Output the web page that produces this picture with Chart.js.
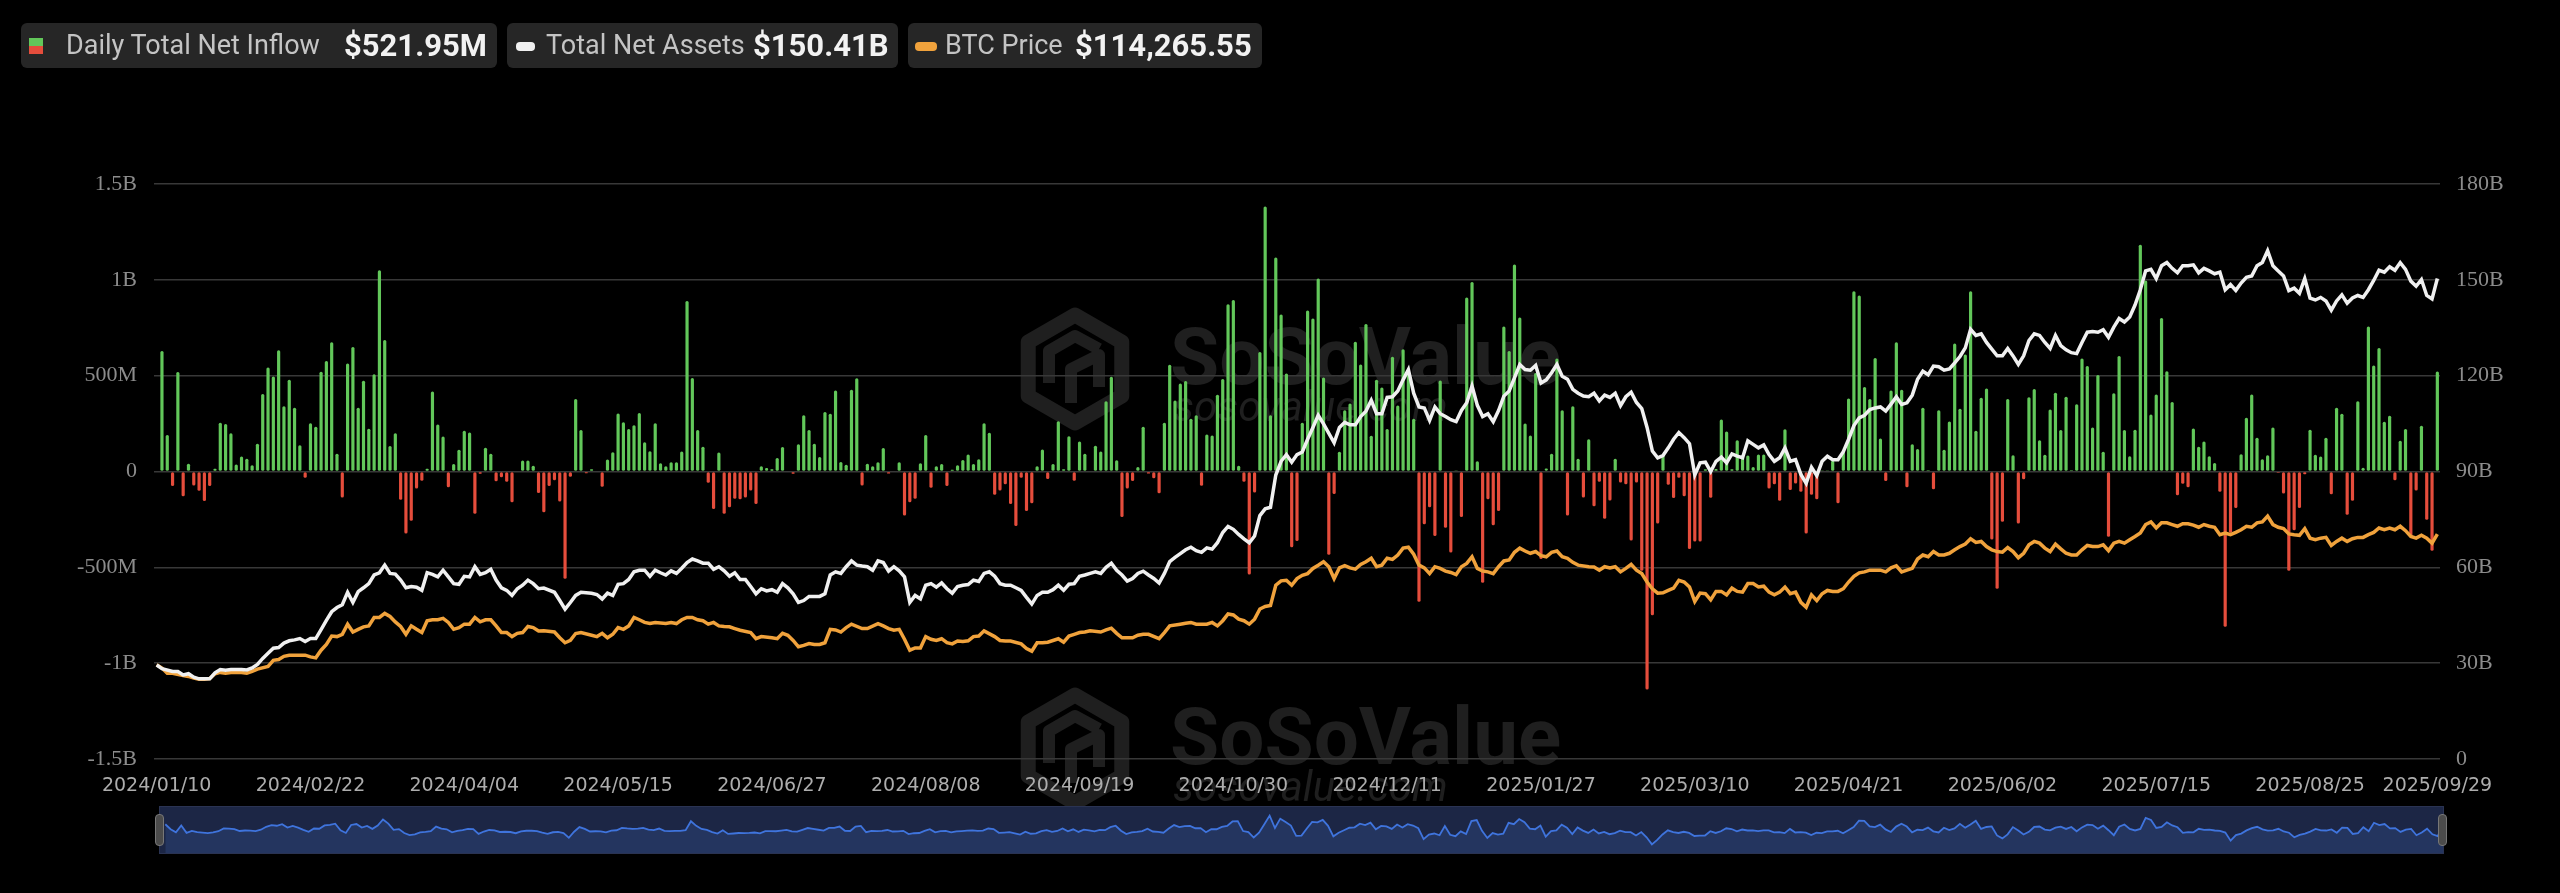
<!DOCTYPE html>
<html>
<head>
<meta charset="utf-8">
<script src="https://cdn.jsdelivr.net/npm/chart.js@4.4.1/dist/chart.umd.min.js"></script>
<style>
    html, body { margin: 0; padding: 0; background: #000; }
    #wrap { position: relative; width: 2560px; height: 893px; overflow: hidden; background: #000; }
    #main { position: absolute; left: 0; top: 0; }
    .box { position: absolute; top: 23px; height: 45px; background: #262626; border-radius: 6px; font-family: Roboto, sans-serif; }
    .box span { position: absolute; top: 0; line-height: 45px; white-space: nowrap; }
    .lbl { color: #c4c4c4; font-size: 27px; }
    .val { color: #f2f2f2; font-size: 31px; font-weight: bold; }
    .ico { position: absolute; }
    #nav { position: absolute; left: 160px; top: 807px; width: 2283px; height: 46px; background: #1c2645; outline: 1px solid #2a3352; }
    #navChart { position: absolute; left: 0; top: 0; }
    .handle { position: absolute; top: 814px; width: 9px; height: 32px; background: #4b4b4b; border: 1px solid #777; border-radius: 4px; box-sizing: border-box; }
</style>
</head>
<body>
<div id="wrap">
    <canvas id="main" width="2560" height="893"></canvas>

    <div class="box" style="left:21px; width:476px;">
        <div class="ico" style="left:8px; top:15px; width:14px; height:8px; background:#62c75a;"></div>
        <div class="ico" style="left:8px; top:23px; width:14px; height:8px; background:#e54d3c;"></div>
        <span class="lbl" style="left:45px;">Daily Total Net Inflow</span>
        <span class="val" style="left:323px;">$521.95M</span>
    </div>
    <div class="box" style="left:507px; width:391px;">
        <div class="ico" style="left:9px; top:19px; width:19px; height:9px; background:#f0f0f0; border-radius:4px;"></div>
        <span class="lbl" style="left:39px;">Total Net Assets</span>
        <span class="val" style="left:246px;">$150.41B</span>
    </div>
    <div class="box" style="left:908px; width:354px;">
        <div class="ico" style="left:7px; top:19px; width:22px; height:9px; background:#f0a23c; border-radius:4px;"></div>
        <span class="lbl" style="left:37px;">BTC Price</span>
        <span class="val" style="left:167px;">$114,265.55</span>
    </div>

    <div id="nav"><canvas id="navChart" width="2283" height="46"></canvas></div>
    <div class="handle" style="left:155px;"></div>
    <div class="handle" style="left:2438px;"></div>
</div>

<script>
// trading days shown on the category axis
const firstDay = '2024-01-10';
const lastDay = '2025-09-29';
const holidays = ['2024-01-15', '2024-02-19', '2024-03-29', '2024-05-27', '2024-06-19', '2024-07-04',
    '2024-09-02', '2024-11-28', '2024-12-25', '2025-01-01', '2025-01-09', '2025-01-20', '2025-02-17',
    '2025-04-18', '2025-05-26', '2025-06-19', '2025-07-04', '2025-09-01'];

const tickLabels = ['2024/01/10', '2024/02/22', '2024/04/04', '2024/05/15', '2024/06/27', '2024/08/08',
    '2024/09/19', '2024/10/30', '2024/12/11', '2025/01/27', '2025/03/10', '2025/04/21', '2025/06/02',
    '2025/07/15', '2025/08/25', '2025/09/29'];

// daily total net inflow, million USD (one per trading day)
const inflowM = [
    null,
    629, 191, -76, 519, -129, 41, -73, -101, -154, -76,
    14, 255, 248, 199, 37, 78, 67, 32, 145, 404,
    543, 496, 633, 340, 479, 332, 137, -32, 252, 234,
    521, 576, 674, 92, -135, 564, 649, 332, 473, 223,
    507, 1050, 686, 133, 199, -147, -323, -257, -89, -48,
    14, 418, 245, 183, -82, 39, 113, 213, 204, -220,
    -12, 124, 92, -51, -30, -53, -160, -4, 58, 58,
    30, -112, -213, -76, -46, -156, -559, -28, 378, 216,
    -9, 12, -4, -80, 62, 101, 303, 257, 222, 241,
    305, 152, 106, 252, 43, 27, 48, 48, 105, 890,
    488, 216, 129, -59, -195, 99, -220, -186, -142, -145,
    -135, -99, -170, 27, 18, 12, 71, 128, -4, -12,
    142, 294, 216, 145, 76, 310, 301, 422, 50, 35,
    426, 486, -73, 41, 27, 48, 122, -11, 0, 48,
    -230, -161, -142, 43, 191, -85, 27, 39, -76, 9,
    32, 60, 89, 39, 64, 252, 202, -121, -99, -67,
    -170, -284, -32, -206, -165, 27, 115, -39, 39, 262,
    12, 184, -48, 156, 92, 4, 135, 105, 367, 495,
    59, -238, -89, -50, 23, 234, -11, -35, -113, 254,
    557, 371, 459, 472, 275, 294, -74, 193, 188, 401,
    482, 872, 895, 30, -53, -537, -110, 624, 1383, 293,
    1117, 819, 511, -395, -363, 255, 840, 798, 1007, 491,
    -434, -117, 103, 319, 355, 677, 558, 770, 186, 479,
    438, 222, 599, 344, 638, 514, 275, -679, -275, -186,
    -337, 475, -294, -422, 5, -238, 908, 989, 53, -580,
    -145, -280, -206, 757, 629, 1080, 803, 250, 188, 514,
    -456, 16, 92, 589, 319, -230, 340, 66, -135, 168,
    -181, -53, -246, -151, 66, -57, -66, -360, -57, -518,
    -1138, -750, -271, 89, -69, -138, -32, -129, -404, -365,
    -365, 12, -137, 13, 271, 209, 12, 163, 80, 83,
    23, 89, 89, -89, -67, -152, 220, -96, -62, -105,
    -323, -121, -145, 2, 2, 57, -165, 106, 381, 940,
    918, 441, 378, 592, 172, -50, 422, 674, 426, -82,
    142, 117, 333, 7, -92, 319, 113, 261, 668, 328,
    610, 940, 213, 385, 433, -355, -612, -262, 378, 85,
    -271, -41, 388, 431, 163, 87, 323, 411, 216, 390,
    7, 351, 590, 550, 229, 504, 103, -340, 408, 603,
    216, 80, 218, 1183, 996, 298, 402, 801, 523, 363,
    -124, -64, -82, 225, 129, 156, 80, 44, -106, -810,
    -319, -191, 90, 280, 402, 176, 64, 85, 230, -7,
    -115, -518, -307, -191, -14, 218, 87, 78, 176, -119,
    332, 301, -225, -152, 367, 20, 757, 553, 644, 259,
    291, -46, 160, 222, -337, -99, 239, -252, -413, 521.95
];

// total net assets, billion USD
const assetsB = [
    29.4, 28.3, null, 27.4, 27.4, 26.3, 26.7, 25.6, 25.1, 25.1,
    25.1, 27.0, 28.0, 27.8, 28.0, null, 28.0, 27.9, 28.5, 29.6,
    31.5, 33.1, 34.7, 34.9, 36.3, 37.0, 37.3, 37.7, 36.8, 37.7,
    37.7, 40.5, 43.4, 46.1, 47.4, 48.3, 52.2, 49.0, 52.4, 53.6,
    54.9, 57.6, 58.3, 60.7, 58.1, 57.9, 56.0, 53.6, 54.0, 53.8,
    52.8, 58.3, 57.8, 57.0, 59.1, 57.0, 54.9, 54.7, 57.2, 57.0,
    60.2, 57.8, 58.3, 59.4, 56.0, 53.6, 52.8, 51.2, 53.3, 54.4,
    56.0, 54.9, 53.3, 53.5, null, 52.2, 49.6, 46.9, 49.0, 51.2,
    52.2, null, 51.9, 51.5, 50.1, 51.9, 51.2, 54.7, 54.9, 56.2,
    58.6, 59.1, 59.1, 57.2, 59.1, 58.3, 57.6, 58.9, 58.1, 59.7,
    61.5, 62.6, 62.0, 61.3, 61.3, 59.4, 60.2, 58.9, 57.2, 58.3,
    56.2, 56.2, 54.0, 51.7, 53.3, 52.6, 53.0, 52.2, 54.9, 53.6,
    51.7, 49.0, 49.6, 50.9, 50.9, 50.9, 51.7, 57.6, 58.6, 58.1,
    60.2, 62.0, 60.7, 60.4, 60.2, 59.1, 62.0, 61.5, 58.8, 60.2,
    58.9, 57.0, 49.0, 51.2, 50.1, 54.4, 54.9, 53.8, 55.1, 53.3,
    51.9, 54.0, 54.4, 54.6, 56.0, 55.6, 58.1, 58.6, 57.2, 54.9,
    54.4, 54.4, 53.6, 52.8, 50.6, 48.5, 51.2, 52.2, 52.2, 53.0,
    54.4, 52.8, 54.7, 54.9, 57.2, 57.6, 58.1, 58.6, 58.1, 60.0,
    61.3, 59.1, 57.6, 55.7, 56.5, 58.1, 58.8, 57.6, 56.5, 55.1,
    58.1, 61.8, 63.1, 64.3, 65.5, 66.3, 65.2, 64.7, 66.1, 65.7,
    67.7, 70.9, 72.8, 71.9, 70.3, 68.9, 67.7, 69.8, 76.2, 78.3,
    78.8, 88.9, 93.2, 95.3, 92.9, 95.3, 96.1, 100.1, 103.8, 107.6,
    104.9, null, 99.0, 103.8, 105.4, 104.6, 104.6, 107.2, 108.9, 112.3,
    108.1, 108.1, 113.2, 113.4, 115.2, 118.7, 121.9, 114.5, 110.2, 109.9,
    106.0, 110.2, 108.1, 107.2, 106.2, 105.6, 109.1, 111.5, 116.8, 110.7,
    107.2, 108.1, 105.6, 109.1, 113.6, 115.2, 119.3, 123.5, 121.9, 121.7,
    123.2, 117.7, 118.7, 120.9, 123.5, 119.8, 118.9, 115.7, 114.5, 113.6,
    113.4, 114.5, 112.1, 113.9, 113.2, 114.5, 110.6, 113.4, 114.8, 111.6,
    109.7, 103.8, 96.4, 94.3, 95.0, 97.4, 100.1, 102.2, 100.6, 98.7,
    88.9, 92.7, 92.9, 90.0, 93.2, 94.5, 92.7, 95.5, 94.8, 94.3,
    99.6, 98.5, 97.4, 98.3, 95.3, 93.2, 94.3, 97.4, 93.2, 93.7,
    89.1, 86.3, 91.3, 88.7, 93.2, 94.8, 93.7, 93.7, 96.2, 100.1,
    104.4, 106.8, 107.6, 109.4, 109.9, 110.2, 108.9, 111.1, 113.4, 111.0,
    111.5, 113.9, 118.9, 121.4, 120.3, 123.0, 122.8, 121.7, 122.1, 124.0,
    126.0, 128.7, 134.5, 132.6, 133.1, 130.4, 128.3, 126.2, 126.2, 128.5,
    126.2, 123.5, 126.2, 131.0, 133.1, 132.6, 130.4, 128.5, 132.6, 129.4,
    128.1, 127.2, 126.9, 130.4, 133.6, 133.8, 133.6, 134.4, 132.0, 135.2,
    137.9, 136.8, 138.4, 142.1, 146.9, 152.8, 153.3, 150.4, 154.4, 155.4,
    153.6, 152.2, 154.4, 154.4, 154.7, 152.2, 153.6, 152.8, 151.9, 152.4,
    146.9, 148.5, 146.7, 149.0, 150.8, 151.2, 154.4, 155.4, 159.1, 154.4,
    152.8, 151.2, 146.6, 147.4, 145.8, 150.4, 144.3, 143.7, 144.5, 143.4,
    140.5, 143.4, 145.3, 142.7, 144.3, 145.1, 144.5, 146.9, 149.8, 153.0,
    152.4, 154.1, 153.0, 155.4, 153.3, 149.6, 148.0, 150.1, 145.1, 144.0,
    150.41
];

// BTC price, USD
const btcPrice = [
    46000, 44300, 41600, 41600, null, 40400, 39900, 39000, 38500, 38500,
    38800, 41300, 42000, 41600, 42000, null, 42000, 41600, 42500, 43700,
    null, 45100, 48300, 48700, 50400, 51000, 51000, null, 51000, 50100,
    49600, 53600, 56600, 61000, 60700, 61900, 67200, 63100, 64500, 65800,
    66300, 70700, 70700, 72800, 71200, 68400, 66000, 61900, 66300, 64500,
    62800, 69000, 69500, 69500, 70200, 68100, 64500, 65400, 67200, 67200,
    70700, 68400, 69500, 69500, 66300, 62800, 62800, 60700, 62400, 62800,
    66000, 65400, 63600, 63700, null, 63100, 60100, 57500, 58700, 62300,
    62800, null, 61400, 60700, 62400, 60100, 61900, 65400, 64500, 66300,
    70700, 69500, 68100, 67500, 68100, null, 67500, 68100, 67500, 69500,
    70700, 70700, 69500, 69000, 67200, 68100, 66300, 66000, 65800, 64900,
    64000, null, 62800, 59600, 60700, null, 60100, 59600, 62400, 61400,
    58700, 55400, 56100, 57100, 56600, 56600, 57500, 64500, 64200, 63100,
    65400, 67200, null, 64900, 64900, null, 67500, 66300, 64900, 64000,
    64500, 59300, 53600, 54800, 54800, 60700, 59300, 58700, 59600, 57500,
    56900, 58400, 58200, 58500, 60700, 61000, 63700, null, 60700, 58700,
    58400, 58400, null, 56900, 54500, 53100, 57500, 57500, 57800, null,
    59600, 57800, 61000, 61900, 62800, 63100, 63700, null, 63100, 64200,
    65100, 62400, 60100, null, 60100, 61400, 61900, 61900, null, 59600,
    62800, 66300, null, 67200, 67700, 68100, 67200, null, 67200, 68100,
    66300, 69000, 72500, 72000, 69800, 69000, 67200, 69800, 75100, 76400,
    76900, 87500, 89800, 90100, 87500, 91000, 92700, 93600, 96300, 98000,
    99800, 97200, 91000, 96600, 97700, 96600, 95900, 98400, 99800, 101600,
    97200, 98000, 101600, 101000, 103300, 106900, 107400, 103700, 98000, 96600,
    93600, 97200, 96300, 94900, 94200, 93100, 97200, 98900, 102400, 96300,
    94900, 94500, 93600, 97200, 100200, 100700, 104700, 106900, 105400, 104200,
    105100, 103000, 102400, 104700, 105400, 102400, 101600, 99500, 98000, null,
    97200, 97000, 95400, 97200, 96600, 97200, 94500, 96300, 98400, 95400,
    93600, 89200, 85700, 83400, 83600, 84800, 86000, 90100, 89200, 86600,
    79000, 83400, 83100, 79900, 84300, 84300, 82500, 86000, 84300, 83900,
    88400, 88400, 86600, 87000, 83900, 82500, 83900, 86600, 83100, 83900,
    78600, 76000, 82500, 79500, 83100, 84800, 84300, 84300, 85700, 89200,
    92200, 94000, 94500, 95400, 95400, 95400, 94500, 96600, 97700, 94500,
    95400, 96300, 101200, 103300, 102400, 105100, 103300, 103300, 104200, 106000,
    107700, 109000, 111800, 109900, 110400, 107700, 106000, 105100, 104800, 107200,
    105100, 101900, 104200, 108600, 110400, 109500, 106900, 105100, 109000, 106500,
    104200, 103300, 103300, 106000, 108300, 107700, 107700, 108600, 105600, 109500,
    110400, 109500, 111300, 113000, 114800, 119200, 120600, 117400, 120100, 120100,
    119200, 118300, 119600, 119600, 118900, 117800, 119200, 118300, 117800, 113900,
    114800, 113900, 115100, 116500, 118300, 117800, 120100, 120600, 123600, 119200,
    117800, 117100, 114300, 113900, 113600, 117100, 112100, 111300, 112100, 112500,
    108300, 110400, 112100, 110400, 111800, 112500, 112500, 113900, 115100, 117400,
    116500, 117400, 116500, 118300, 116000, 113000, 112100, 113600, 112100, 109500,
    114265.55
];

const GREEN = '#62c75a';
const RED = '#e54d3c';

function tradingDays() {
    const out = [];
    const d = new Date(firstDay + 'T00:00:00Z');
    const end = new Date(lastDay + 'T00:00:00Z');
    while (d <= end) {
        const iso = d.toISOString().slice(0, 10);
        const wd = d.getUTCDay();
        if (wd !== 0 && wd !== 6 && !holidays.includes(iso)) out.push(iso.replace(/-/g, '/'));
        d.setUTCDate(d.getUTCDate() + 1);
    }
    return out;
}
const days = tradingDays();

function fmtFlow(v) {
    if (v === 0) return '0';
    if (Math.abs(v) >= 1000) return (v / 1000) + 'B';
    return v + 'M';
}

// faint SoSoValue marks behind the plot
function drawMark(ctx, x, y) {
    const c = '#1f1f1f';
    ctx.strokeStyle = c;
    ctx.fillStyle = c;
    ctx.lineWidth = 15;
    ctx.lineJoin = 'round';
    const cx = x + 52, cy = y + 61, r = 54;
    ctx.beginPath();
    for (let k = 0; k < 6; k++) {
        const a = Math.PI / 180 * (60 * k - 90);
        const px = cx + r * Math.cos(a), py = cy + r * Math.sin(a);
        if (k === 0) ctx.moveTo(px, py); else ctx.lineTo(px, py);
    }
    ctx.closePath();
    ctx.stroke();
    ctx.lineWidth = 12;
    ctx.beginPath();
    ctx.moveTo(cx + 24, cy - 20);
    ctx.lineTo(cx, cy - 33);
    ctx.lineTo(cx - 26, cy - 18);
    ctx.lineTo(cx - 26, cy + 14);
    ctx.moveTo(cx - 4, cy + 34);
    ctx.lineTo(cx - 4, cy);
    ctx.lineTo(cx + 24, cy - 14);
    ctx.lineTo(cx + 24, cy + 18);
    ctx.stroke();
    ctx.textBaseline = 'alphabetic';
    ctx.font = 'bold 80px Roboto';
    ctx.fillText('SoSoValue', x + 147, y + 76);
    ctx.font = 'italic 42px Roboto';
    ctx.fillText('sosovalue.com', x + 150, y + 113);
}

const watermark = {
    id: 'watermark',
    beforeDraw(chart) {
        const ctx = chart.ctx;
        ctx.save();
        drawMark(ctx, 1023, 308);
        drawMark(ctx, 1023, 688);
        ctx.restore();
    }
};

Chart.defaults.animation = false;

new Chart(document.getElementById('main'), {
    type: 'bar',
    data: {
        labels: days,
        datasets: [
            {
                type: 'line',
                label: 'Total Net Assets',
                data: assetsB,
                yAxisID: 'yAssets',
                borderColor: '#f0f0f0',
                borderWidth: 3.5,
                pointRadius: 0,
                spanGaps: true,
                tension: 0,
                order: 0
            },
            {
                type: 'line',
                label: 'BTC Price',
                data: btcPrice,
                yAxisID: 'yPrice',
                borderColor: '#f0a23c',
                borderWidth: 3.5,
                pointRadius: 0,
                spanGaps: true,
                tension: 0,
                order: 1
            },
            {
                label: 'Daily Total Net Inflow',
                data: inflowM,
                yAxisID: 'yFlow',
                backgroundColor: ctx => (ctx.raw >= 0 ? GREEN : RED),
                barPercentage: 0.6,
                categoryPercentage: 1.0,
                borderRadius: 1.5,
                borderSkipped: false,
                order: 2
            }
        ]
    },
    options: {
        responsive: false,
        events: [],
        layout: { padding: { top: 184, left: 0, right: 0, bottom: 0 } },
        plugins: {
            legend: { display: false },
            tooltip: { enabled: false }
        },
        scales: {
            x: {
                offset: true,
                grid: { display: false, drawTicks: false },
                border: { display: false },
                afterFit: s => { s.height = 134; },
                ticks: {
                    autoSkip: false,
                    maxRotation: 0,
                    padding: 16,
                    color: '#adadad',
                    font: { family: 'DejaVu Sans', size: 19 },
                    callback: function (val) {
                        const d = this.getLabelForValue(val);
                        return tickLabels.includes(d) ? d : '';
                    }
                }
            },
            yFlow: {
                position: 'left',
                min: -1500,
                max: 1500,
                afterFit: s => { s.width = 154; },
                grid: { color: '#383838', lineWidth: 1.5, drawTicks: false },
                border: { display: false },
                ticks: {
                    stepSize: 500,
                    padding: 17,
                    color: '#8c8c8c',
                    font: { family: 'Liberation Serif', size: 22 },
                    callback: v => fmtFlow(v)
                }
            },
            yAssets: {
                position: 'right',
                min: 0,
                max: 180,
                afterFit: s => { s.width = 120; },
                grid: { display: false, drawTicks: false },
                border: { display: false },
                ticks: {
                    stepSize: 30,
                    padding: 16,
                    color: '#8c8c8c',
                    font: { family: 'Liberation Serif', size: 22 },
                    callback: v => (v === 0 ? '0' : v + 'B')
                }
            },
            yPrice: {
                display: false,
                min: -3200,
                max: 297000
            }
        }
    },
    plugins: [watermark]
});

// the zoom slider strip with the inflow shadow
new Chart(document.getElementById('navChart'), {
    type: 'line',
    data: {
        labels: days,
        datasets: [{
            data: inflowM,
            borderColor: '#3f74dd',
            borderWidth: 1.8,
            backgroundColor: '#24355f',
            fill: 'start',
            pointRadius: 0,
            spanGaps: true,
            tension: 0
        }]
    },
    options: {
        responsive: false,
        events: [],
        layout: { padding: 0 },
        plugins: { legend: { display: false }, tooltip: { enabled: false } },
        scales: {
            x: { display: false, offset: false },
            y: { display: false, min: -1894, max: 2139 }
        }
    }
});
</script>
</body>
</html>
